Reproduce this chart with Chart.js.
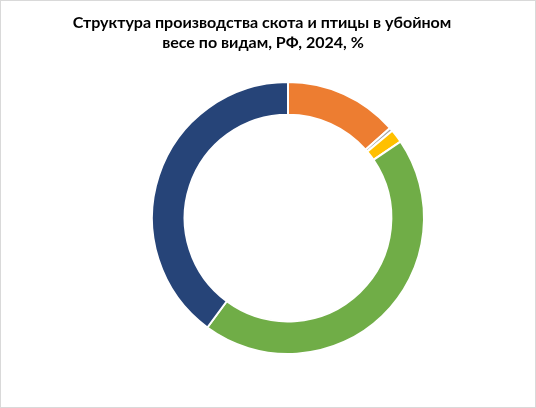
<!DOCTYPE html>
<html>
<head>
<meta charset="utf-8">
<script src="https://cdn.jsdelivr.net/npm/chart.js@4/dist/chart.umd.min.js"></script>
<style>
html,body{margin:0;padding:0;background:#fff;}
#wrap{width:536px;height:408px;position:relative;}
</style>
</head>
<body>
<div id="wrap"><canvas id="c" width="536" height="408"></canvas></div>
<script>
const categories = ["КРС", "Прочие", "Овцы и козы", "Птица", "Свиньи"];
const shares = [13.5, 0.4, 1.6, 44.6, 39.9];
const colors = ["#ED7D31", "#A5A5A5", "#FFC000", "#70AD47", "#264478"];
const titleLines = ["Структура производства скота и птицы в убойном", "весе по видам, РФ, 2024, %"];

const titlePlugin = {
  id: 'customTitle',
  afterDraw(chart) {
    const ctx = chart.ctx;
    ctx.save();
    ctx.strokeStyle = '#D9D9D9';
    ctx.lineWidth = 1;
    ctx.strokeRect(0.5, 0.5, chart.width - 1, chart.height - 1);
    let size = 16;
    ctx.font = 'bold ' + size + 'px Lato';
    const w = ctx.measureText(titleLines[0]).width;
    size = size * 379 / w;
    ctx.font = 'bold ' + size.toFixed(2) + 'px Lato';
    ctx.fillStyle = '#000';
    ctx.textAlign = 'center';
    ctx.textBaseline = 'alphabetic';
    ctx.fillText(titleLines[0], 262, 27.5);
    ctx.fillText(titleLines[1], 263, 47.5);
    ctx.restore();
  }
};

new Chart(document.getElementById('c'), {
  type: 'doughnut',
  data: {
    labels: categories,
    datasets: [{
      data: shares,
      backgroundColor: colors,
      borderColor: '#FFFFFF',
      borderWidth: 2
    }]
  },
  options: {
    responsive: false,
    animation: false,
    cutout: '76%',
    layout: { padding: { top: 81, bottom: 53, left: 40, right: 0 } },
    plugins: {
      legend: { display: false },
      title: { display: false },
      tooltip: { enabled: false }
    }
  },
  plugins: [titlePlugin]
});
</script>
</body>
</html>
